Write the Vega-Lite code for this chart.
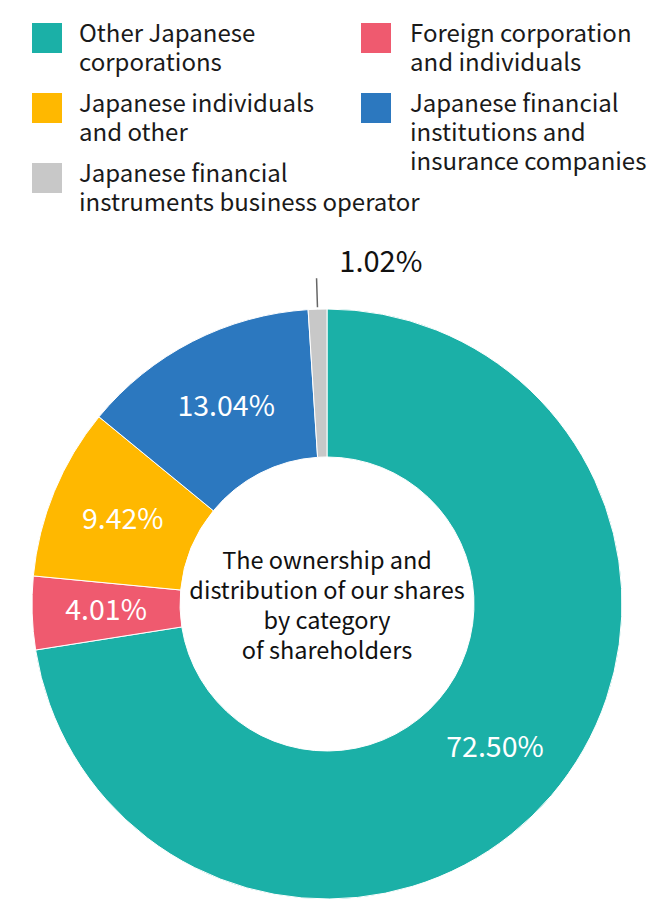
{
  "$schema": "https://vega.github.io/schema/vega-lite/v6.json",
  "width": 590,
  "height": 590,
  "autosize": "none",
  "padding": {"left": 32, "top": 309, "right": 48, "bottom": 23},
  "background": "white",
  "config": {
    "view": {"stroke": null},
    "font": "Noto Sans CJK JP",
    "style": {"guide-label": {"lineHeight": 29, "dy": 4}}
  },
  "data": {
    "values": [
      {"category": "Other Japanese corporations", "share": 0.7250},
      {"category": "Foreign corporation and individuals", "share": 0.0401},
      {"category": "Japanese individuals and other", "share": 0.0942},
      {"category": "Japanese financial institutions and insurance companies", "share": 0.1304},
      {"category": "Japanese financial instruments business operator", "share": 0.0102}
    ]
  },
  "transform": [{"window": [{"op": "row_number", "as": "idx"}]}],
  "layer": [
    {
      "mark": {"type": "arc", "outerRadius": 295, "innerRadius": 147, "stroke": "white", "strokeWidth": 1},
      "encoding": {
        "theta": {"field": "share", "type": "quantitative", "stack": true},
        "order": {"field": "idx", "type": "quantitative"},
        "color": {
          "field": "category",
          "type": "nominal",
          "scale": {
            "domain": ["Other Japanese corporations", "Foreign corporation and individuals", "Japanese individuals and other", "Japanese financial institutions and insurance companies", "Japanese financial instruments business operator"],
            "range": ["#1bb0a7", "#ef5a6f", "#ffb800", "#2c78bf", "#c8c8c8"]
          },
          "legend": {
            "orient": "none",
            "legendX": 0,
            "legendY": -286,
            "title": null,
            "padding": 0,
            "values": ["Other Japanese corporations", "Japanese individuals and other", "Japanese financial instruments business operator"],
            "symbolType": "square",
            "symbolSize": 900,
            "symbolStrokeWidth": 0,
            "symbolOpacity": 1,
            "labelFont": "Noto Sans CJK JP",
            "labelFontSize": 24,
            "labelColor": "#1a1a1a",
            "labelLimit": 500,
            "labelOffset": 17,
            "labelBaseline": "alphabetic",
            "rowPadding": 17,
            "labelExpr": "datum.label == 'Other Japanese corporations' ? ['Other Japanese', 'corporations'] : datum.label == 'Japanese individuals and other' ? ['Japanese individuals', 'and other'] : ['Japanese financial', 'instruments business operator']"
          }
        }
      }
    },
    {
      "transform": [{"filter": "datum.category === 'Foreign corporation and individuals' || datum.category === 'Japanese financial institutions and insurance companies'"}],
      "mark": {"type": "arc", "outerRadius": 295, "innerRadius": 147, "opacity": 0},
      "encoding": {
        "theta": {"field": "share", "type": "quantitative", "stack": true},
        "order": {"field": "idx", "type": "quantitative"},
        "fill": {
          "field": "category",
          "type": "nominal",
          "scale": {
            "domain": ["Foreign corporation and individuals", "Japanese financial institutions and insurance companies"],
            "range": ["#ef5a6f", "#2c78bf"]
          },
          "legend": {
            "orient": "none",
            "legendX": 329,
            "legendY": -286,
            "title": null,
            "padding": 0,
            "symbolType": "square",
            "symbolSize": 900,
            "symbolStrokeWidth": 0,
            "symbolOpacity": 1,
            "labelFont": "Noto Sans CJK JP",
            "labelFontSize": 24,
            "labelColor": "#1a1a1a",
            "labelLimit": 500,
            "labelOffset": 19,
            "labelBaseline": "alphabetic",
            "rowPadding": 17,
            "labelExpr": "datum.label == 'Foreign corporation and individuals' ? ['Foreign corporation', 'and individuals'] : ['Japanese financial', 'institutions and', 'insurance companies']"
          }
        }
      }
    },
    {
      "mark": {"type": "text", "radius": 221, "fill": "white", "fontSize": 28.5, "font": "Noto Sans CJK JP", "align": "center", "baseline": "middle"},
      "encoding": {
        "theta": {"field": "share", "type": "quantitative", "stack": true},
        "order": {"field": "idx", "type": "quantitative"},
        "detail": {"field": "category", "type": "nominal"},
        "text": {"field": "share", "type": "quantitative", "format": ".2%"},
        "opacity": {"condition": {"test": "datum.category === 'Japanese financial instruments business operator'", "value": 0}, "value": 1}
      }
    },
    {
      "mark": {"type": "text", "radius": 332, "dx": 23, "fill": "#111111", "fontSize": 29, "font": "Noto Sans CJK JP", "align": "left", "baseline": "alphabetic"},
      "encoding": {
        "theta": {"field": "share", "type": "quantitative", "stack": true},
        "order": {"field": "idx", "type": "quantitative"},
        "detail": {"field": "category", "type": "nominal"},
        "text": {"field": "share", "type": "quantitative", "format": ".2%"},
        "opacity": {"condition": {"test": "datum.category === 'Japanese financial instruments business operator'", "value": 1}, "value": 0}
      }
    },
    {
      "mark": {"type": "arc", "outerRadius": 326, "innerRadius": 297, "padAngle": 0.3, "fill": null, "stroke": "#666666", "strokeWidth": 1.5},
      "encoding": {
        "theta": {"field": "share", "type": "quantitative", "stack": true},
        "order": {"field": "idx", "type": "quantitative"},
        "detail": {"field": "category", "type": "nominal"},
        "opacity": {"condition": {"test": "datum.category === 'Japanese financial instruments business operator'", "value": 1}, "value": 0}
      }
    },
    {
      "transform": [{"filter": "datum.idx == 1"}],
      "mark": {
        "type": "text",
        "text": ["The ownership and", "distribution of our shares", "by category", "of shareholders"],
        "fontSize": 23.5,
        "lineHeight": 30,
        "font": "Noto Sans CJK JP",
        "fill": "#111111",
        "align": "center",
        "baseline": "middle",
        "dy": -42
      },
      "encoding": {}
    }
  ]
}
